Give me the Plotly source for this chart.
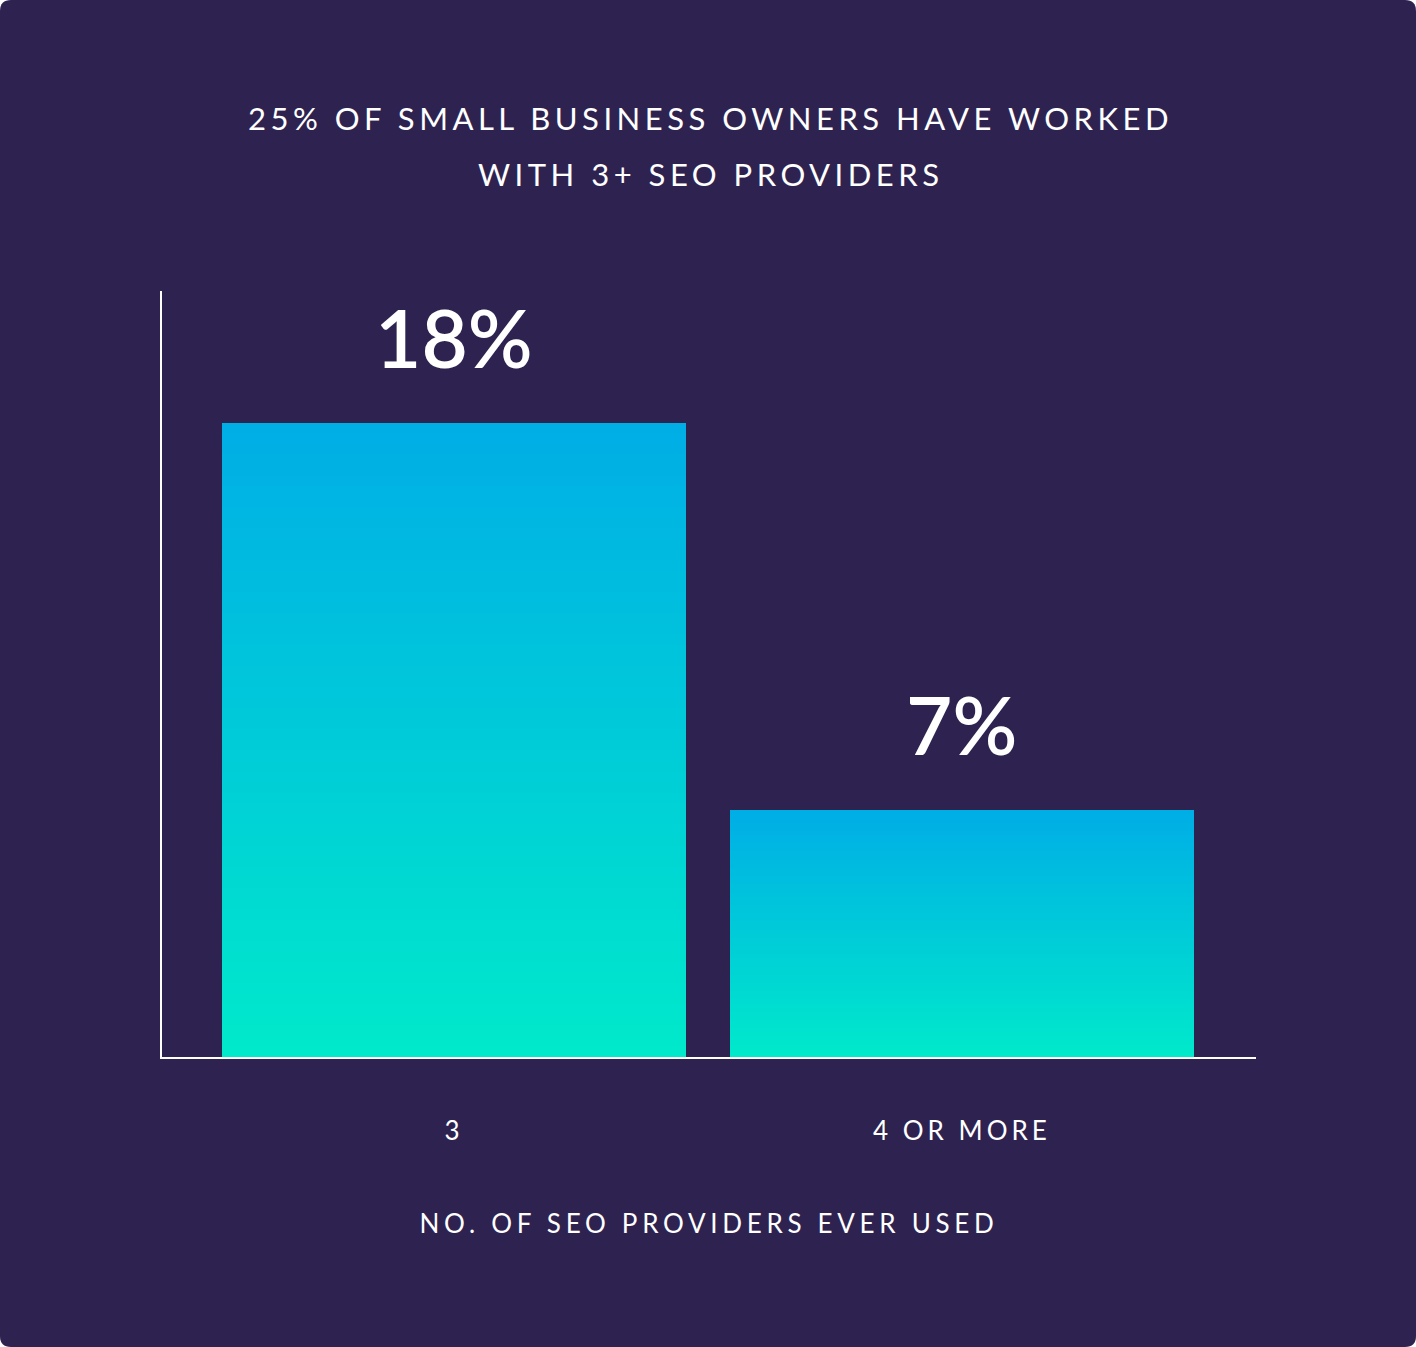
import plotly.graph_objects as go

# ---- data ----
categories = ["3", "4 OR MORE"]
values = [18, 7]
value_labels = ["18%", "7%"]
title_lines = ["25% OF SMALL BUSINESS OWNERS HAVE WORKED", "WITH 3+ SEO PROVIDERS"]
x_title = "NO. OF SEO PROVIDERS EVER USED"

# ---- style ----
W, H = 1416, 1347
ML, MR, MT, MB = 162, 160, 291, 290
BG = "#2E2350"
TOP_C = (0, 174, 230)
BOT_C = (0, 233, 203)
FONT = "Lato"
N_SEG = 60


def lerp(c1, c2, t):
    return "rgb(%d,%d,%d)" % tuple(round(a + (b - a) * t) for a, b in zip(c1, c2))


def spaced(s, px):
    return f'<span style="letter-spacing:{px}px">{s}</span>'


fig = go.Figure()
for i in range(N_SEG):
    t = (i + 0.5) / N_SEG
    fig.add_trace(go.Bar(
        x=categories,
        y=[v / N_SEG for v in values],
        width=0.913,
        marker=dict(color=lerp(BOT_C, TOP_C, t), line=dict(width=0)),
        hoverinfo="skip",
        showlegend=False,
    ))

for i, (v, lab) in enumerate(zip(values, value_labels)):
    fig.add_annotation(x=i, y=v, text=lab, showarrow=False, yanchor="bottom",
                       yshift=36, font=dict(family=FONT, size=80, color="white", weight=600))

# rounded background
pw = W - ML - MR
ph = H - MT - MB


def px(x):
    return (x - ML) / pw


def py(y):
    return (H - MB - y) / ph


r = 11
path = (f"M {px(r)},{py(0)} L {px(W - r)},{py(0)} Q {px(W)},{py(0)} {px(W)},{py(r)} "
        f"L {px(W)},{py(H - r)} Q {px(W)},{py(H)} {px(W - r)},{py(H)} "
        f"L {px(r)},{py(H)} Q {px(0)},{py(H)} {px(0)},{py(H - r)} "
        f"L {px(0)},{py(r)} Q {px(0)},{py(0)} {px(r)},{py(0)} Z")
fig.add_shape(type="path", path=path, xref="paper", yref="paper",
              fillcolor=BG, line=dict(width=0), layer="below")

# title lines as annotations (for wider line spacing)
for k, line in enumerate(title_lines):
    fig.add_annotation(text=spaced(line, 4.5), xref="paper", yref="paper",
                       x=px(W / 2 + 2), y=py(118 + 56 * k), xanchor="center", yanchor="middle",
                       showarrow=False, font=dict(family=FONT, size=31, color="white"))

fig.update_layout(
    width=W, height=H,
    margin=dict(l=ML, r=MR, t=MT, b=MB),
    paper_bgcolor="white",
    plot_bgcolor=BG,
    barmode="stack",
    bargap=0,
    xaxis=dict(type="category", range=[-0.575, 1.579], showline=True, linecolor="white",
               linewidth=2, ticks="", showgrid=False, zeroline=False,
               tickvals=categories, ticktext=[spaced(c, 4) for c in categories],
               tickfont=dict(family=FONT, size=26, color="white"),
               ticklabelstandoff=50,
               title=dict(text=spaced(x_title, 4.7),
                          font=dict(family=FONT, size=26, color="white"), standoff=70)),
    yaxis=dict(range=[0, 21.74], showline=True, linecolor="white", linewidth=2,
               showticklabels=False, ticks="", showgrid=False, zeroline=False),
)

fig.write_html("out.html", config={"displayModeBar": False},
               post_script="document.body.style.margin='0';")
